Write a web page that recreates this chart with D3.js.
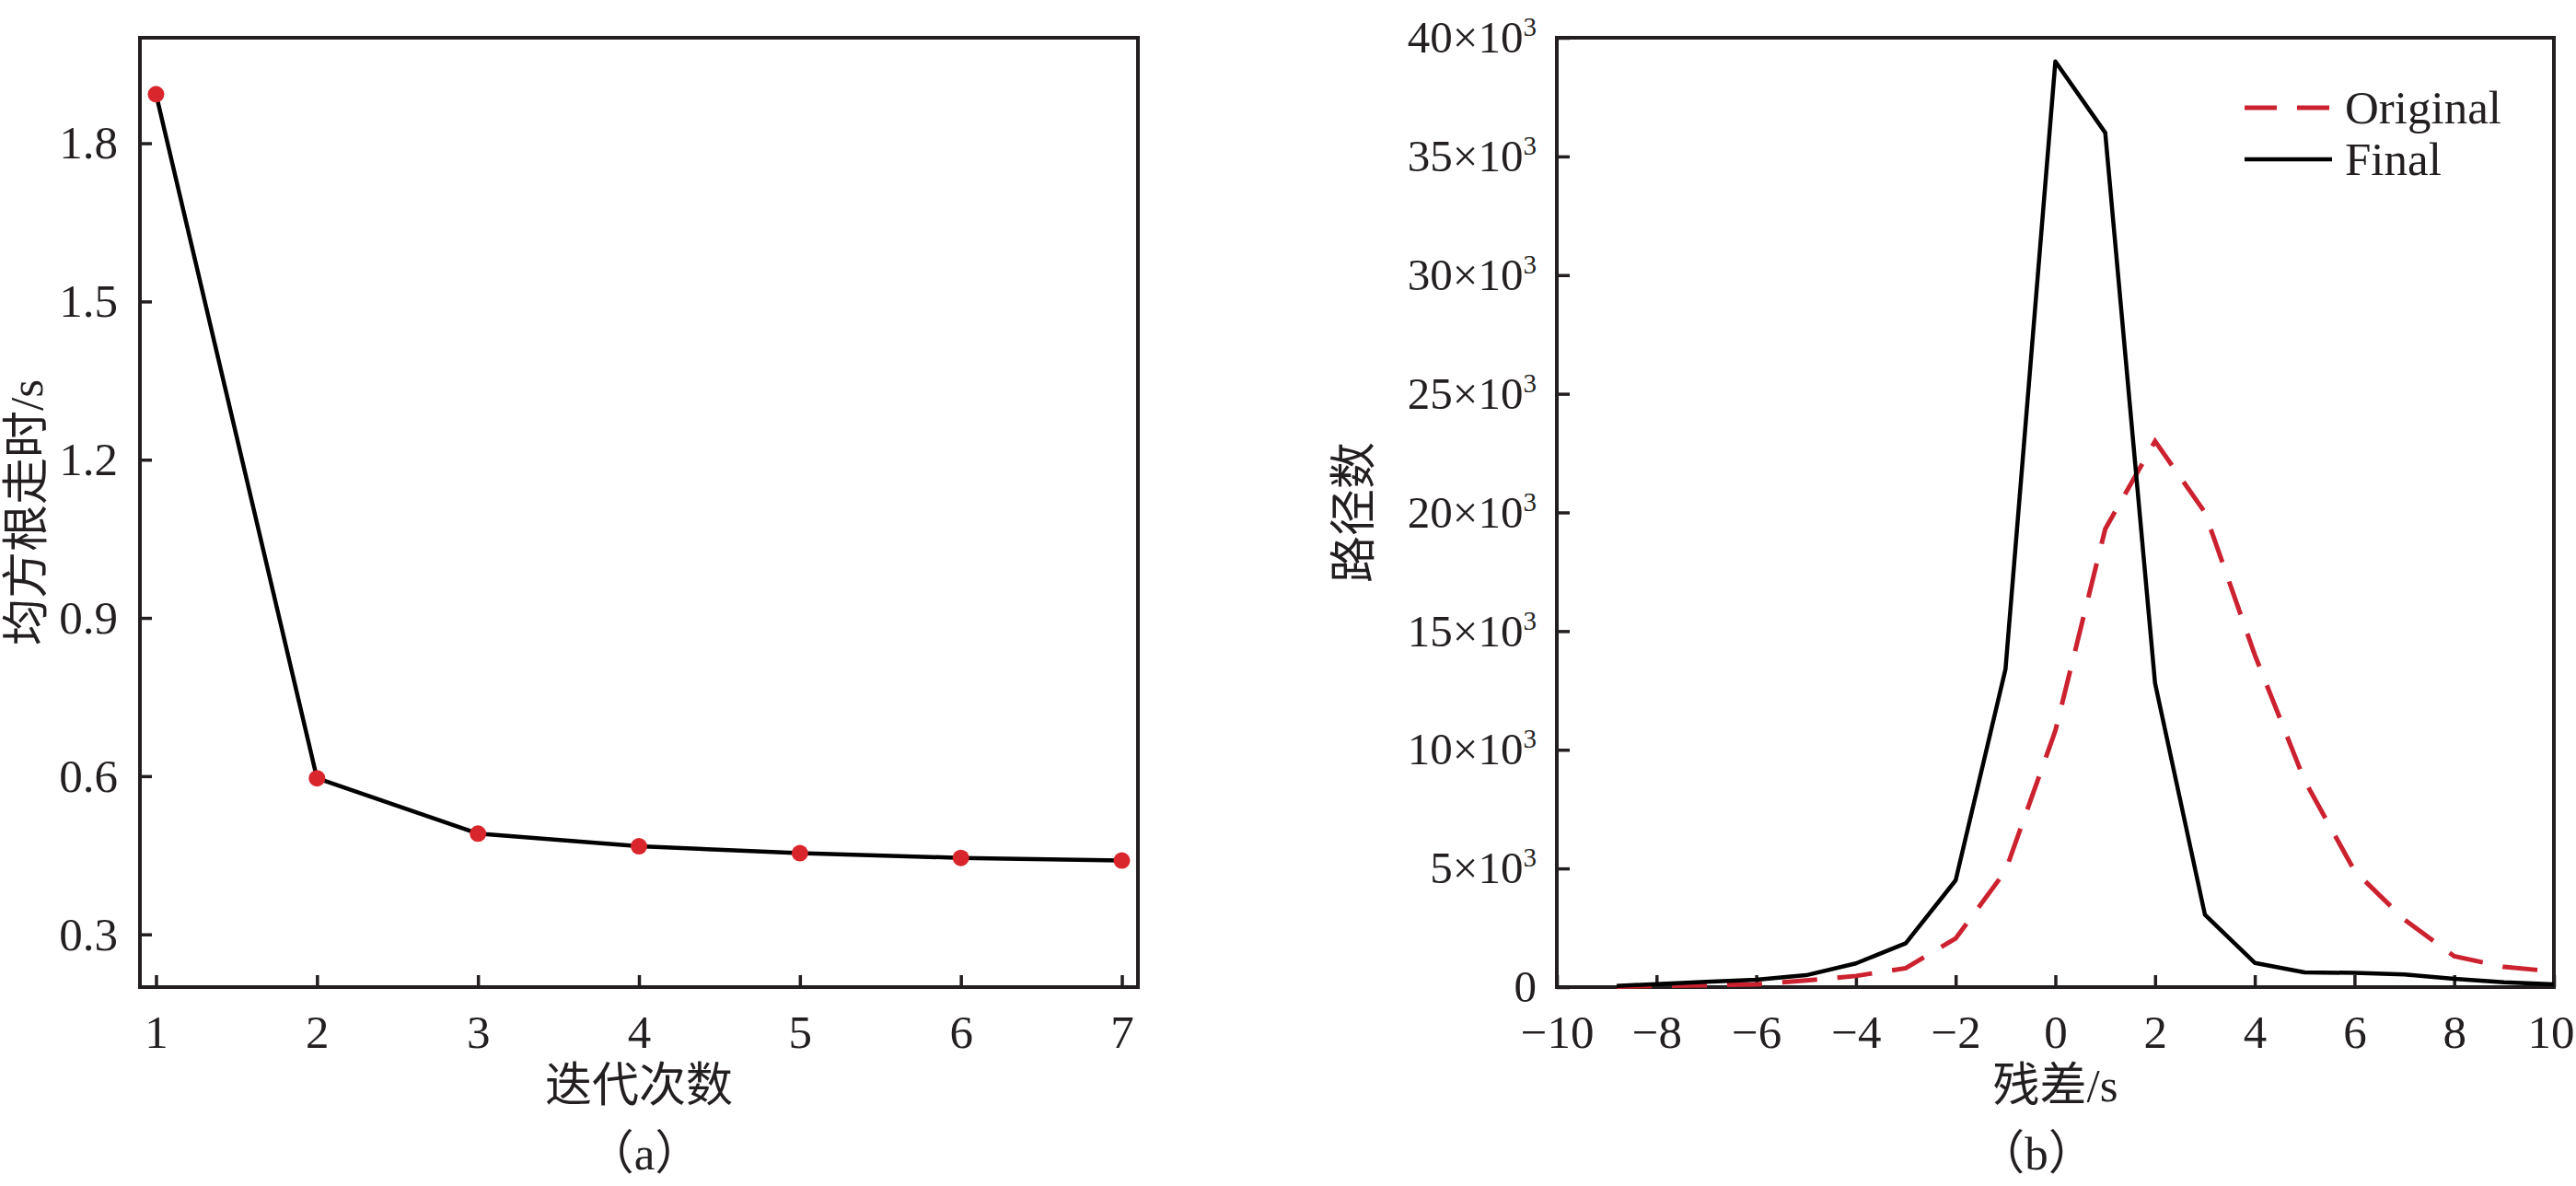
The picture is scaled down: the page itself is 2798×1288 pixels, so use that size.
<!DOCTYPE html>
<html>
<head>
<meta charset="utf-8">
<script src="https://cdn.jsdelivr.net/npm/d3@7"></script>
<style>
  html, body { margin: 0; padding: 0; background: #ffffff; }
  svg { display: block; }
</style>
</head>
<body>
<svg id="chart" width="2798" height="1288"></svg>
<script>
// ---------------- data ----------------
// panel (a)
const iterations = [1, 2, 3, 4, 5, 6, 7];
const rmsTime = [1.893, 0.596, 0.491, 0.467, 0.454, 0.445, 0.44];
const aYTicks = [0.3, 0.6, 0.9, 1.2, 1.5, 1.8];
const aXTicks = [1, 2, 3, 4, 5, 6, 7];

// panel (b)
const residuals = [-8.8, -8, -7, -6, -5, -4, -3, -2, -1, 0, 1, 2, 3, 4, 5, 6, 7, 8, 9, 10];
const originalCounts = [20, 50, 80, 120, 280, 470, 800, 2050, 4900, 10800, 19300, 23000, 20000, 14000, 8700, 4900, 2850, 1300, 850, 660];
const finalCounts = [50, 130, 220, 310, 500, 1000, 1850, 4500, 13400, 39000, 36000, 12800, 3050, 1020, 620, 600, 530, 350, 200, 120];
const bYTicks = [0, 5000, 10000, 15000, 20000, 25000, 30000, 35000, 40000];
const bXTicks = [-10, -8, -6, -4, -2, 0, 2, 4, 6, 8, 10];
const seriesNames = ["Original", "Final"];

// ---------------- styles ----------------
const INK = "#231f20";
const RED = "#cc2230";
const DOT = "#d9262c";
const SERIF = "'Liberation Serif', 'Times New Roman', 'Noto Sans CJK SC', serif";
const FS = 51;

const svg = d3.select("#chart");

function styleAxis(g) {
  g.attr("font-family", SERIF).attr("font-size", FS);
  g.select(".domain").remove();
  g.selectAll(".tick line").attr("stroke", INK).attr("stroke-width", 3.5);
  g.selectAll(".tick text").attr("fill", INK);
}

function frame(x0, y0, x1, y1) {
  svg.append("rect")
    .attr("x", x0).attr("y", y0)
    .attr("width", x1 - x0).attr("height", y1 - y0)
    .attr("fill", "none").attr("stroke", INK).attr("stroke-width", 4);
}

// ---------------- panel (a) ----------------
{
  const L = 152, R = 1236, T = 41, B = 1072;
  const x = d3.scaleLinear().domain([0.9, 7.1]).range([L, R]);
  const y = d3.scaleLinear().domain([0.2, 2.0]).range([B, T]);

  svg.append("g").attr("transform", `translate(0,${B})`)
    .call(d3.axisBottom(x).tickValues(aXTicks).tickFormat(d3.format("d"))
      .tickSizeInner(-13).tickSizeOuter(0).tickPadding(30))
    .call(styleAxis);

  svg.append("g").attr("transform", `translate(${L},0)`)
    .call(d3.axisLeft(y).tickValues(aYTicks).tickFormat(d3.format(".1f"))
      .tickSizeInner(-13).tickSizeOuter(0).tickPadding(24))
    .call(styleAxis);

  frame(L, T, R, B);

  const line = d3.line().x((d, i) => x(iterations[i])).y(d => y(d));
  svg.append("path").datum(rmsTime)
    .attr("d", line).attr("fill", "none")
    .attr("stroke", "#000").attr("stroke-width", 4.5).attr("stroke-linejoin", "round");

  svg.append("g").selectAll("circle").data(rmsTime).join("circle")
    .attr("cx", (d, i) => x(iterations[i])).attr("cy", d => y(d))
    .attr("r", 9).attr("fill", DOT);

  svg.append("text")
    .attr("transform", `translate(28,${(T + B) / 2}) rotate(-90)`)
    .attr("text-anchor", "middle").attr("dy", "0.35em")
    .attr("font-family", SERIF).attr("font-size", FS).attr("fill", INK)
    .text("均方根走时/s");

  svg.append("text")
    .attr("x", (L + R) / 2).attr("y", 1196)
    .attr("text-anchor", "middle")
    .attr("font-family", SERIF).attr("font-size", FS).attr("fill", INK)
    .text("迭代次数");

  svg.append("text")
    .attr("x", 700).attr("y", 1270)
    .attr("text-anchor", "middle")
    .attr("font-family", SERIF).attr("font-size", FS).attr("fill", INK)
    .text("（a）");
}

// ---------------- panel (b) ----------------
{
  const L = 1691, R = 2774, T = 41, B = 1072;
  const x = d3.scaleLinear().domain([-10, 10]).range([L, R]);
  const y = d3.scaleLinear().domain([0, 40000]).range([B, T]);

  const gx = svg.append("g").attr("transform", `translate(0,${B})`)
    .call(d3.axisBottom(x).tickValues(bXTicks).tickFormat(d3.format("d"))
      .tickSizeInner(-13).tickSizeOuter(0).tickPadding(30))
    .call(styleAxis);
  // keep the last label inside the picture, as in the reference
  gx.selectAll(".tick text").filter(d => d === bXTicks[bXTicks.length - 1])
    .attr("text-anchor", "end").attr("x", 22);

  const gy = svg.append("g").attr("transform", `translate(${L},0)`)
    .call(d3.axisLeft(y).tickValues(bYTicks)
      .tickSizeInner(-14).tickSizeOuter(0).tickPadding(22))
    .call(styleAxis);
  gy.attr("font-size", 49);
  gy.selectAll(".tick text").each(function(d) {
    const t = d3.select(this);
    t.text(null);
    if (d === 0) { t.text("0"); return; }
    t.append("tspan").text(`${d / 1000}×10`);
    t.append("tspan").attr("font-size", 29).attr("dy", "-0.62em").text("3");
  });

  frame(L, T, R, B);

  const lineO = d3.line().x((d, i) => x(residuals[i])).y(d => y(d));
  svg.append("path").datum(originalCounts)
    .attr("d", lineO).attr("fill", "none")
    .attr("stroke", RED).attr("stroke-width", 5)
    .attr("stroke-dasharray", "38,22");

  svg.append("path").datum(finalCounts)
    .attr("d", lineO).attr("fill", "none")
    .attr("stroke", "#000").attr("stroke-width", 4.5).attr("stroke-linejoin", "round");

  // legend
  const lg = svg.append("g");
  const legendStyles = [
    { color: RED, dash: "35,22", w: 5 },
    { color: "#000", dash: null, w: 4.5 }
  ];
  seriesNames.forEach((name, i) => {
    const yy = 117 + i * 56;
    lg.append("line")
      .attr("x1", 2438).attr("x2", 2533).attr("y1", yy).attr("y2", yy)
      .attr("stroke", legendStyles[i].color).attr("stroke-width", legendStyles[i].w)
      .attr("stroke-dasharray", legendStyles[i].dash);
    lg.append("text")
      .attr("x", 2547).attr("y", yy).attr("dy", "0.34em")
      .attr("font-family", SERIF).attr("font-size", FS).attr("fill", INK)
      .text(name);
  });

  svg.append("text")
    .attr("transform", `translate(1470,${(T + B) / 2}) rotate(-90)`)
    .attr("text-anchor", "middle").attr("dy", "0.35em")
    .attr("font-family", SERIF).attr("font-size", FS).attr("fill", INK)
    .text("路径数");

  svg.append("text")
    .attr("x", (L + R) / 2).attr("y", 1196)
    .attr("text-anchor", "middle")
    .attr("font-family", SERIF).attr("font-size", FS).attr("fill", INK)
    .text("残差/s");

  svg.append("text")
    .attr("x", 2212).attr("y", 1270)
    .attr("text-anchor", "middle")
    .attr("font-family", SERIF).attr("font-size", FS).attr("fill", INK)
    .text("（b）");
}
</script>
</body>
</html>
